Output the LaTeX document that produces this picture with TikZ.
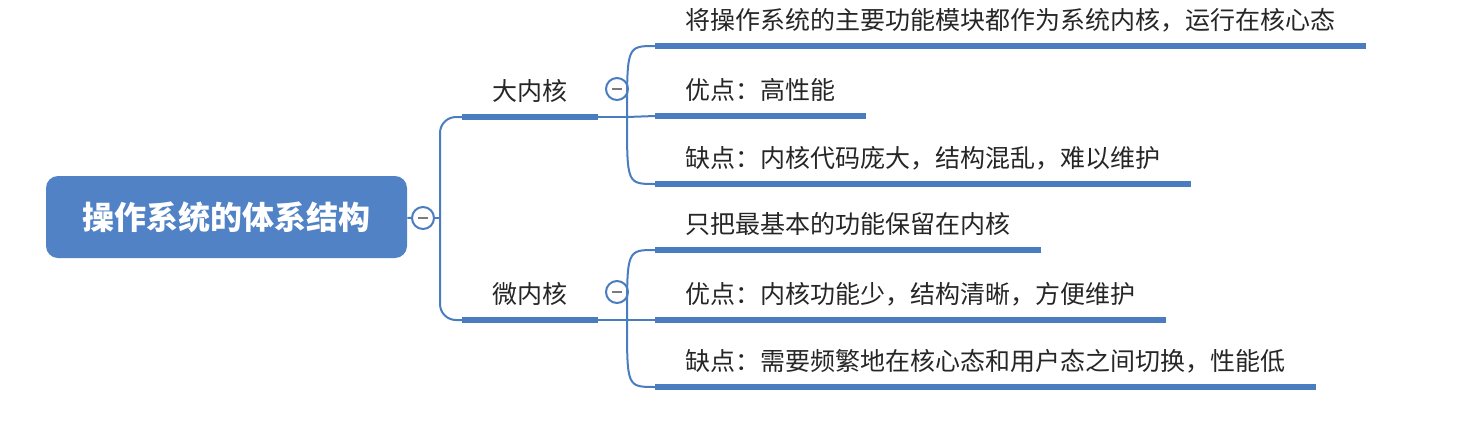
\documentclass[tikz,border=0pt]{standalone}
\usepackage{fontspec}
\setmainfont{Noto Sans CJK SC}
\usepackage{tikz}
\usetikzlibrary{positioning}
\definecolor{mapblue}{HTML}{4A7DC0}
\definecolor{rootblue}{HTML}{5082C5}
\definecolor{minusgray}{HTML}{7A7A7A}

\begin{document}
\begin{tikzpicture}[x=0.5pt, y=-0.5pt,
        topic/.style={rectangle, rounded corners=6pt, fill=rootblue, text=white, font=\fontsize{16}{19}\selectfont\bfseries, minimum width=180.5pt, minimum height=41pt, inner sep=0pt},
        leaf/.style={anchor=south west, inner xsep=15pt, inner ysep=6pt, text height=9pt, text depth=2pt, font=\fontsize{12.5}{15}\selectfont, text=black!85},
        bar/.style={draw=mapblue, line width=3pt},
        link/.style={draw=mapblue, line width=1pt},
        fold/.style={circle, draw=mapblue, line width=1pt, fill=white, minimum size=11pt, inner sep=0pt}]
        \useasboundingbox (0,0) rectangle (1462,434);

        \node[topic] at (226.5, 217)   (root) {操作系统的体系结构};
        \node[fold] at (423, 218)   (croot) {\textcolor{minusgray}{\rule{5pt}{1.4pt}}};

        \node[leaf] at (462, 117)   (big) {大内核};
        \node[leaf] at (462, 320)   (micro) {微内核};
        \node[fold] at (617, 89)   (cbig) {\textcolor{minusgray}{\rule{5pt}{1.4pt}}};
        \node[fold] at (617, 292)   (cmicro) {\textcolor{minusgray}{\rule{5pt}{1.4pt}}};

        \node[leaf] at (655, 46)   (b1) {将操作系统的主要功能模块都作为系统内核，运行在核心态};
        \node[leaf] at (655, 116)   (b2) {优点：高性能};
        \node[leaf] at (655, 184)   (b3) {缺点：内核代码庞大，结构混乱，难以维护};
        \node[leaf] at (655, 250)   (m1) {只把最基本的功能保留在内核};
        \node[leaf] at (655, 320)   (m2) {优点：内核功能少，结构清晰，方便维护};
        \node[leaf] at (655, 387)   (m3) {缺点：需要频繁地在核心态和用户态之间切换，性能低};

        \coordinate (jroot) at (440, 218);
        \coordinate (jbig) at (627, 117);
        \coordinate (jmicro) at (627, 320);

        \draw [link] (root) -- (croot);
        \draw [link] (croot) -- (jroot);
        \draw [link, rounded corners=8pt] (big.south west) -| (jroot) |- (micro.south west);

        \draw [link] (big.south east) -- (jbig);
        \draw [link] (jbig) .. controls (jbig |- b1.south west) .. (b1.south west);
        \draw [link] (jbig) -- (b2.south west);
        \draw [link] (jbig) .. controls (jbig |- b3.south west) .. (b3.south west);

        \draw [link] (micro.south east) -- (jmicro);
        \draw [link] (jmicro) .. controls (jmicro |- m1.south west) .. (m1.south west);
        \draw [link] (jmicro) -- (m2.south west);
        \draw [link] (jmicro) .. controls (jmicro |- m3.south west) .. (m3.south west);

        \foreach \n in {big, micro, b1, b2, b3, m1, m2, m3}
            \draw [bar] (\n.south west) -- (\n.south east);
\end{tikzpicture}
\end{document}
